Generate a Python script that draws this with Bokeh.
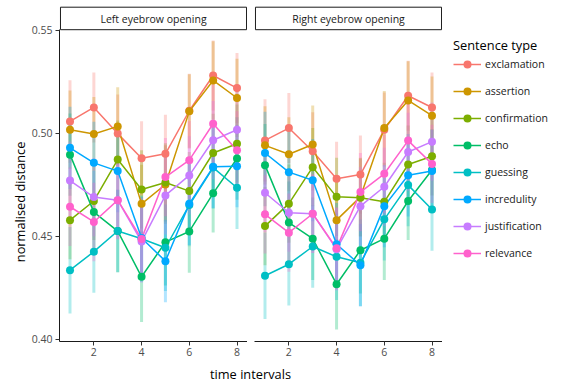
import math
from bokeh.plotting import figure
from bokeh.models import Range1d, FixedTicker, PrintfTickFormatter, Legend, LegendItem, ColumnDataSource
from bokeh.layouts import row, column
from bokeh.embed import file_html
from bokeh.resources import INLINE
from bokeh.core.properties import value

# ---------------- data ----------------
time_intervals = [1, 2, 3, 4, 5, 6, 7, 8]
x_ticks = [2, 4, 6, 8]
y_ticks = [0.40, 0.45, 0.50, 0.55]
panels = ["Left eyebrow opening", "Right eyebrow opening"]
sentence_types = ["exclamation", "assertion", "confirmation", "echo",
                  "guessing", "incredulity", "justification", "relevance"]
colors = ["#F8766D", "#CD9600", "#7CAE00", "#00BE67",
          "#00BFC4", "#00A9FF", "#C77CFF", "#FF61CC"]

# left eyebrow opening (means)
left_exclamation   = [0.5056, 0.5124, 0.4997, 0.4877, 0.4899, 0.5108, 0.5279, 0.5218]
left_assertion     = [0.5016, 0.4995, 0.5032, 0.4656, 0.4750, 0.5105, 0.5255, 0.5170]
left_confirmation  = [0.4577, 0.4670, 0.4871, 0.4726, 0.4760, 0.4718, 0.4903, 0.4948]
left_echo          = [0.4895, 0.4616, 0.4524, 0.4302, 0.4470, 0.4522, 0.4707, 0.4876]
left_guessing      = [0.4334, 0.4424, 0.4524, 0.4487, 0.4443, 0.4650, 0.4832, 0.4734]
left_incredulity   = [0.4928, 0.4855, 0.4815, 0.4490, 0.4378, 0.4656, 0.4836, 0.4839]
left_justification = [0.4769, 0.4689, 0.4674, 0.4473, 0.4697, 0.4794, 0.4965, 0.5016]
left_relevance     = [0.4642, 0.4568, 0.4674, 0.4486, 0.4786, 0.4868, 0.5045, 0.4916]

# right eyebrow opening (means)
right_exclamation   = [0.4964, 0.5024, 0.4911, 0.4778, 0.4798, 0.5016, 0.5181, 0.5124]
right_assertion     = [0.4940, 0.4897, 0.4944, 0.4577, 0.4690, 0.5024, 0.5158, 0.5084]
right_confirmation  = [0.4548, 0.4657, 0.4834, 0.4690, 0.4686, 0.4666, 0.4847, 0.4887]
right_echo          = [0.4844, 0.4565, 0.4487, 0.4266, 0.4431, 0.4487, 0.4670, 0.4820]
right_guessing      = [0.4307, 0.4363, 0.4449, 0.4399, 0.4370, 0.4581, 0.4747, 0.4629]
right_incredulity   = [0.4903, 0.4810, 0.4771, 0.4460, 0.4358, 0.4645, 0.4795, 0.4815]
right_justification = [0.4710, 0.4613, 0.4608, 0.4436, 0.4645, 0.4739, 0.4908, 0.4958]
right_relevance     = [0.4605, 0.4516, 0.4608, 0.4440, 0.4713, 0.4802, 0.4963, 0.4850]

# error-bar half widths (per sentence type, per time interval)
err_exclamation   = [0.020, 0.017, 0.019, 0.018, 0.019, 0.018, 0.017, 0.017]
err_assertion     = [0.019, 0.018, 0.019, 0.019, 0.019, 0.018, 0.019, 0.019]
err_confirmation  = [0.019, 0.019, 0.019, 0.019, 0.019, 0.019, 0.019, 0.019]
err_echo          = [0.020, 0.020, 0.020, 0.022, 0.021, 0.020, 0.019, 0.020]
err_guessing      = [0.021, 0.020, 0.020, 0.021, 0.021, 0.020, 0.020, 0.020]
err_incredulity   = [0.020, 0.020, 0.020, 0.020, 0.020, 0.020, 0.020, 0.020]
err_justification = [0.019, 0.019, 0.019, 0.020, 0.019, 0.019, 0.019, 0.019]
err_relevance     = [0.019, 0.019, 0.019, 0.020, 0.019, 0.019, 0.019, 0.019]

left_values = [left_exclamation, left_assertion, left_confirmation, left_echo,
               left_guessing, left_incredulity, left_justification, left_relevance]
right_values = [right_exclamation, right_assertion, right_confirmation, right_echo,
                right_guessing, right_incredulity, right_justification, right_relevance]
errors = [err_exclamation, err_assertion, err_confirmation, err_echo,
          err_guessing, err_incredulity, err_justification, err_relevance]

# ---------------- styling ----------------
FONT = "Open Sans"
SMALL = "10.5px"
BIG = "12.8px"
PX_PER_UNIT = 2060.0
Y0 = 0.40 - 2.5 / PX_PER_UNIT          # panel bottom
Y1 = 0.55 + 29.5 / PX_PER_UNIT         # top of canvas
PANEL_TOP = 0.55 + 0.3 / PX_PER_UNIT
STRIP_TOP = 0.55 + 22.8 / PX_PER_UNIT
STRIP_MID = 0.55 + 11.5 / PX_PER_UNIT
X0, X1 = 0.56, 8.44
FRAME_W, FRAME_H = 188, 341
BOTTOM = 20
YT_W = 28
TOTAL_H = 384


def make_panel(title, values, border_left, show_y):
    p = figure(width=border_left + FRAME_W, height=FRAME_H + BOTTOM,
               x_range=Range1d(X0, X1), y_range=Range1d(Y0, Y1),
               output_backend="svg", toolbar_location=None, title=None,
               min_border_left=border_left, min_border_right=0,
               min_border_top=0, min_border_bottom=BOTTOM,
               y_axis_location="left" if show_y else None)
    p.outline_line_color = None
    p.grid.visible = False

    xa = p.xaxis[0]
    xa.ticker = FixedTicker(ticks=x_ticks)
    xa.major_label_text_font = FONT
    xa.major_label_text_font_size = SMALL
    xa.major_label_text_color = "#4D4D4D"
    xa.major_tick_out = 4
    xa.major_tick_in = 0
    xa.minor_tick_out = 0
    xa.minor_tick_in = 0
    xa.major_tick_line_color = "#333333"
    xa.axis_line_color = "#1A1A1A"
    xa.major_label_standoff = 2
    if show_y:
        ya = p.yaxis[0]
        ya.ticker = FixedTicker(ticks=y_ticks)
        ya.formatter = PrintfTickFormatter(format="%.2f")
        ya.bounds = (Y0, PANEL_TOP)
        ya.major_label_text_font = FONT
        ya.major_label_text_font_size = SMALL
        ya.major_label_text_color = "#4D4D4D"
        ya.major_tick_out = 4
        ya.major_tick_in = 0
        ya.minor_tick_out = 0
        ya.minor_tick_in = 0
        ya.major_tick_line_color = "#333333"
        ya.axis_line_color = "#1A1A1A"
        ya.major_label_standoff = 3

    # facet strip
    p.quad(left=[X0 + 0.04], right=[X1 - 0.04], bottom=[PANEL_TOP],
           top=[STRIP_TOP], fill_color="white",
           line_color="#1A1A1A", line_width=1)
    p.text(x=[(X0 + X1) / 2], y=[STRIP_MID],
           text=[title], text_font=value(FONT), text_font_size=SMALL,
           text_color="#1A1A1A", text_align="center", text_baseline="middle")

    sources = []
    for vals, errs in zip(values, errors):
        sources.append(ColumnDataSource(data=dict(
            t=time_intervals, v=vals,
            lo=[a - e for a, e in zip(vals, errs)],
            hi=[a + e for a, e in zip(vals, errs)])))
    for src, c in zip(sources, colors):
        p.segment(x0="t", y0="lo", x1="t", y1="hi", source=src,
                  line_color=c, line_alpha=0.3, line_width=3)
    for src, c in zip(sources, colors):
        p.line(x="t", y="v", source=src, line_color=c, line_width=1.5)
    for src, c in zip(sources, colors):
        p.scatter(x="t", y="v", source=src, size=8, fill_color=c, line_color=None)
    return p


left_fig = make_panel(panels[0], left_values, 59 - YT_W, True)
right_fig = make_panel(panels[1], right_values, 7, False)

# y-axis title
ytitle = figure(width=YT_W, height=TOTAL_H, x_range=Range1d(0, YT_W), y_range=Range1d(TOTAL_H, 0),
                output_backend="svg", toolbar_location=None, title=None,
                min_border=0, x_axis_location=None, y_axis_location=None)
ytitle.outline_line_color = None
ytitle.grid.visible = False
ytitle.text(x=[19], y=[182.5], text=["normalised distance"], angle=math.pi / 2,
            text_font=value(FONT), text_font_size=BIG, text_color="black",
            text_align="center", text_baseline="middle")

# x-axis title
XT_W = 442 - YT_W
XT_H = TOTAL_H - FRAME_H - BOTTOM
xtitle = figure(width=XT_W, height=XT_H, x_range=Range1d(0, XT_W), y_range=Range1d(XT_H, 0),
                output_backend="svg", toolbar_location=None, title=None,
                min_border=0, x_axis_location=None, y_axis_location=None)
xtitle.outline_line_color = None
xtitle.grid.visible = False
xtitle.text(x=[250 - YT_W], y=[373 - FRAME_H - BOTTOM], text=["time intervals"],
            text_font=value(FONT), text_font_size=BIG, text_color="black",
            text_align="center", text_baseline="middle")

# legend
nan = float("nan")
lfig = figure(width=561 - 442, height=TOTAL_H, x_range=Range1d(0, 1), y_range=Range1d(0, 1),
              output_backend="svg", toolbar_location=None, title=None,
              min_border_left=11, min_border_top=36, min_border_right=0, min_border_bottom=0,
              x_axis_location=None, y_axis_location=None)
lfig.outline_line_color = None
lfig.grid.visible = False
items = []
for name, c in zip(sentence_types, colors):
    src = ColumnDataSource(data=dict(x=[nan], y=[nan]))
    lr = lfig.line(x="x", y="y", source=src, line_color=c, line_width=1.5)
    sr = lfig.scatter(x="x", y="y", source=src, size=8, fill_color=c, line_color=None)
    items.append(LegendItem(label=name, renderers=[lr, sr]))
legend = Legend(items=items, location="top_left", title="Sentence type",
                title_text_font=FONT, title_text_font_size=BIG, title_text_font_style="normal",
                title_text_color="black", title_standoff=0,
                label_text_font=FONT, label_text_font_size=SMALL, label_text_color="#1A1A1A",
                label_standoff=4, label_height=20, glyph_height=20, glyph_width=28,
                spacing=7, padding=0, margin=0, border_line_color=None,
                background_fill_alpha=0)
lfig.add_layout(legend)

layout = row(ytitle, column(row(left_fig, right_fig), xtitle), lfig)

open("out.html", "w").write(file_html(layout, INLINE))
